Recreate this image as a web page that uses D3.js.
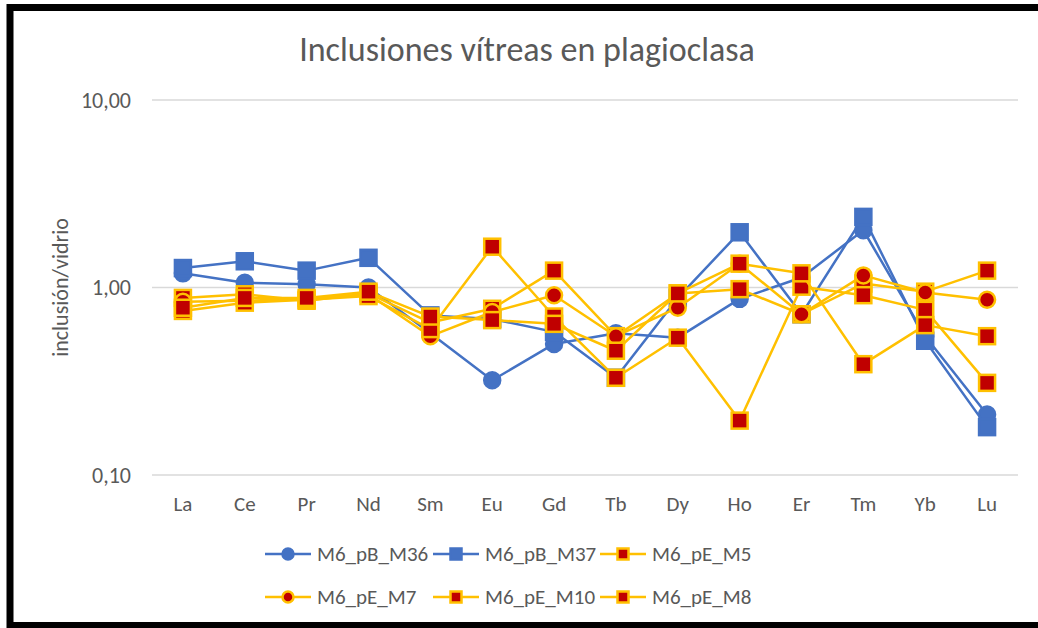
<!DOCTYPE html>
<html>
<head>
<meta charset="utf-8">
<script src="https://cdn.jsdelivr.net/npm/d3@7"></script>
<style>
  body { margin: 0; background: #fff; }
  svg { display: block; font-family: Calibri, Carlito, Lato, sans-serif; }
</style>
</head>
<body>
<div id="chart"></div>
<script>
// REE ratios, inclusion / glass, log scale

const elements = ["La", "Ce", "Pr", "Nd", "Sm", "Eu", "Gd", "Tb", "Dy", "Ho", "Er", "Tm", "Yb", "Lu"];

const m36 = [1.19, 1.06, 1.04, 1.00, 0.57, 0.32, 0.50, 0.57, 0.54, 0.87, 1.13, 2.02, 0.55, 0.21];
const m37 = [1.27, 1.38, 1.23, 1.44, 0.71, 0.68, 0.58, 0.33, 0.88, 1.97, 0.72, 2.38, 0.52, 0.18];
const m5  = [0.88, 0.92, 0.85, 0.93, 0.65, 0.77, 1.23, 0.55, 0.93, 0.98, 0.72, 1.05, 0.95, 1.23];
const m7  = [0.84, 0.85, 0.87, 0.92, 0.55, 0.74, 0.91, 0.55, 0.78, 1.34, 0.72, 1.16, 0.94, 0.86];
const m10 = [0.75, 0.83, 0.86, 0.90, 0.60, 1.65, 0.70, 0.33, 0.54, 0.195, 1.01, 0.91, 0.76, 0.31];
const m8  = [0.78, 0.88, 0.88, 0.95, 0.70, 0.67, 0.64, 0.46, 0.93, 1.34, 1.19, 0.39, 0.63, 0.55];

const yTicks = [0.1, 1, 10];
const titleText = "Inclusiones vítreas en plagioclasa";
const yLabel = "inclusión/vidrio";

const series = [
    { name: "M6_pB_M36", values: m36, line: "#4472C4", fill: "#4472C4", edge: "#4472C4", shape: "circle" },
    { name: "M6_pB_M37", values: m37, line: "#4472C4", fill: "#4472C4", edge: "#4472C4", shape: "square" },
    { name: "M6_pE_M5",  values: m5,  line: "#FFC000", fill: "#C00000", edge: "#FFC000", shape: "square" },
    { name: "M6_pE_M7",  values: m7,  line: "#FFC000", fill: "#C00000", edge: "#FFC000", shape: "circle" },
    { name: "M6_pE_M10", values: m10, line: "#FFC000", fill: "#C00000", edge: "#FFC000", shape: "square" },
    { name: "M6_pE_M8",  values: m8,  line: "#FFC000", fill: "#C00000", edge: "#FFC000", shape: "square" }
];

const width = 1038, height = 628;
const margin = { top: 100, right: 20, bottom: 153, left: 152 };

const svg = d3.select("#chart").append("svg")
    .attr("width", width)
    .attr("height", height);

// frame (right edge is cut off in the original)
svg.append("rect")
    .attr("x", 10).attr("y", 7.5)
    .attr("width", width + 20).attr("height", 618)
    .attr("fill", "#fff")
    .attr("stroke", "#000")
    .attr("stroke-width", 7);

const x = d3.scalePoint()
    .domain(elements)
    .range([margin.left, width - margin.right])
    .padding(0.5);

const y = d3.scaleLog()
    .domain([0.1, 10])
    .range([height - margin.bottom, margin.top]);

const fmt = d3.formatLocale({ decimal: ",", thousands: ".", grouping: [3], currency: ["", ""] }).format(".2f");

// gridlines
svg.append("g")
    .selectAll("line")
    .data(yTicks)
    .join("line")
    .attr("x1", margin.left)
    .attr("x2", width - margin.right)
    .attr("y1", d => y(d))
    .attr("y2", d => y(d))
    .attr("stroke", "#d9d9d9")
    .attr("stroke-width", 1.5);

// y tick labels
svg.append("g")
    .selectAll("text")
    .data(yTicks)
    .join("text")
    .attr("x", 131)
    .attr("y", d => y(d))
    .attr("dy", "0.35em")
    .attr("text-anchor", "end")
    .attr("font-size", 22)
    .attr("fill", "#595959")
    .text(d => fmt(d));

// x labels
svg.append("g")
    .selectAll("text")
    .data(elements)
    .join("text")
    .attr("x", d => x(d))
    .attr("y", 504)
    .attr("dy", "0.35em")
    .attr("text-anchor", "middle")
    .attr("font-size", 21)
    .attr("fill", "#595959")
    .text(d => d);

// title
svg.append("text")
    .attr("x", 527)
    .attr("y", 49)
    .attr("dy", "0.35em")
    .attr("text-anchor", "middle")
    .attr("font-size", 34)
    .attr("fill", "#595959")
    .text(titleText);

// y axis title
svg.append("text")
    .attr("transform", `translate(60,${y(1)}) rotate(-90)`)
    .attr("dy", "0.35em")
    .attr("text-anchor", "middle")
    .attr("font-size", 22)
    .attr("fill", "#595959")
    .text(yLabel);

function drawMarker(g, s, cx, cy, size) {
    if (s.shape === "circle") {
        g.append("circle")
            .attr("cx", cx).attr("cy", cy)
            .attr("r", size / 2)
            .attr("fill", s.fill)
            .attr("stroke", s.edge)
            .attr("stroke-width", 2.5);
    } else {
        g.append("rect")
            .attr("x", cx - size / 2).attr("y", cy - size / 2)
            .attr("width", size).attr("height", size)
            .attr("fill", s.fill)
            .attr("stroke", s.edge)
            .attr("stroke-width", 2.5);
    }
}

const line = d3.line()
    .x((d, i) => x(elements[i]))
    .y(d => y(d));

// each series: line then markers, in legend order
series.forEach(s => {
    const g = svg.append("g");
    g.append("path")
        .attr("d", line(s.values))
        .attr("fill", "none")
        .attr("stroke", s.line)
        .attr("stroke-width", 2.5)
        .attr("stroke-linejoin", "round");
    s.values.forEach((v, i) => drawMarker(g, s, x(elements[i]), y(v), 16));
});

// legend
const legendPos = [
    { lx: 265, ly: 554 }, { lx: 433, ly: 554 }, { lx: 600, ly: 554 },
    { lx: 265, ly: 597 }, { lx: 433, ly: 597 }, { lx: 600, ly: 597 }
];

series.forEach((s, i) => {
    const p = legendPos[i];
    const g = svg.append("g");
    g.append("line")
        .attr("x1", p.lx).attr("x2", p.lx + 46)
        .attr("y1", p.ly).attr("y2", p.ly)
        .attr("stroke", s.line)
        .attr("stroke-width", 2.5);
    drawMarker(g, s, p.lx + 23, p.ly, 11);
    g.append("text")
        .attr("x", p.lx + 52)
        .attr("y", p.ly)
        .attr("dy", "0.35em")
        .attr("font-size", 21)
        .attr("fill", "#595959")
        .text(s.name);
});
</script>
</body>
</html>
